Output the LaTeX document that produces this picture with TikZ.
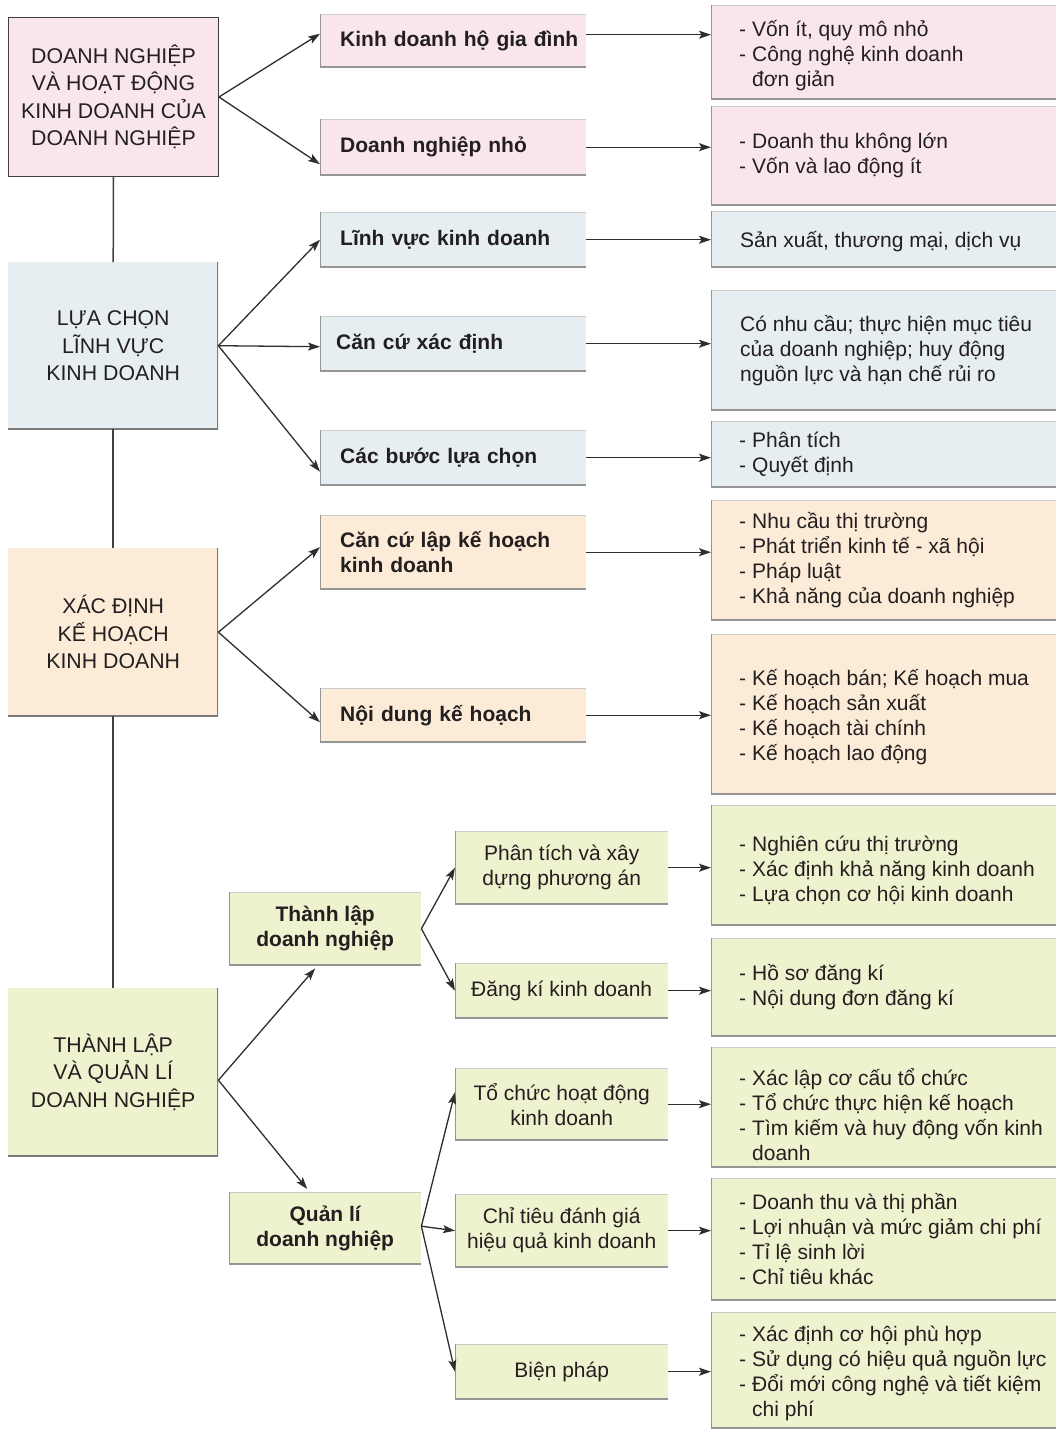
\documentclass[tikz,border=0pt]{standalone}
\usepackage{fontspec}
\setmainfont{Liberation Sans}
\usetikzlibrary{arrows.meta}
\definecolor{cpink}{HTML}{F8E6EC}
\definecolor{cblue}{HTML}{E7EEF2}
\definecolor{cpeach}{HTML}{FBEBD7}
\definecolor{cgreen}{HTML}{EEF2CE}
\definecolor{txt}{HTML}{231F20}
\definecolor{lc}{HTML}{2E2E2E}
\definecolor{edg}{HTML}{7A7A7A}
\newcommand\dd{\makebox[13pt][l]{-}}
\newcommand\ind{\hspace*{13pt}}
\begin{document}
\begin{tikzpicture}[x=1pt,y=-1pt,
  every node/.style={text=txt},
  redge/.style={path picture={\draw[edg,line width=2pt]
      (path picture bounding box.north east) -- (path picture bounding box.south east)
      -- (path picture bounding box.south west);}},
  ledge/.style={path picture={\draw[black!20,line width=1.4pt]
      (path picture bounding box.north west) -- (path picture bounding box.north east);
      \draw[edg!80,line width=1.8pt]
      (path picture bounding box.north west) -- (path picture bounding box.south west)
      -- (path picture bounding box.south east);}},
  c1box/.style={rectangle, anchor=north west, inner sep=0pt, minimum width=210pt,
      align=center, font=\fontsize{21.3}{27.5}\selectfont, redge},
  c2box/.style={rectangle, anchor=north west, inner xsep=20pt, inner ysep=0pt,
      text width=226pt, align=left, font=\fontsize{21}{25}\selectfont\bfseries, ledge},
  c3box/.style={rectangle, anchor=north west, inner sep=0pt, minimum width=345pt, ledge},
  c3txt/.style={anchor=west, align=left, inner sep=0pt, font=\fontsize{21}{25}\selectfont},
  lbox/.style={rectangle, anchor=north west, inner sep=0pt, minimum width=192pt,
      align=center, font=\fontsize{21}{25}\selectfont\bfseries, ledge},
  mbox/.style={rectangle, anchor=north west, inner sep=0pt, minimum width=213pt,
      align=center, font=\fontsize{21}{25}\selectfont, ledge},
  arr/.style={draw=lc, line width=1.3pt, -{Stealth[length=12pt,width=8pt,inset=2.5pt]}},
  spine/.style={draw=black!75, line width=1.5pt}
]
\useasboundingbox (0,0) rectangle (1058,1430);

% ---------- column 1 ----------
\node[c1box, fill=cpink, minimum height=159pt, draw=black!75, line width=1pt] (A) at (8,17)
  {DOANH NGHIỆP\\VÀ HOẠT ĐỘNG\\KINH DOANH CỦA\\DOANH NGHIỆP};
\node[c1box, fill=cblue, minimum height=167pt] (B) at (8,262)
  {LỰA CHỌN\\LĨNH VỰC\\KINH DOANH};
\node[c1box, fill=cpeach, minimum height=168pt] (C) at (8,548)
  {XÁC ĐỊNH\\KẾ HOẠCH\\KINH DOANH};
\node[c1box, fill=cgreen, minimum height=168pt] (D) at (8,988)
  {THÀNH LẬP\\VÀ QUẢN LÍ\\DOANH NGHIỆP};

\draw[spine] (A.south) -- (B.north);
\draw[spine] (B.south) -- (C.north);
\draw[spine] (C.south) -- (D.north);

% ---------- column 2 ----------
\node[c2box, fill=cpink, minimum height=53pt] (k1) at (320,14) {\mbox{Kinh doanh hộ gia đình}};
\node[c2box, fill=cpink, minimum height=56pt] (k2) at (320,119) {Doanh nghiệp nhỏ};
\node[c2box, fill=cblue, minimum height=55pt] (l1) at (320,212) {Lĩnh vực kinh doanh};
\node[c2box, fill=cblue, minimum height=55pt] (l2) at (320,316) {\hspace*{-4pt}Căn cứ xác định};
\node[c2box, fill=cblue, minimum height=55pt] (l3) at (320,430) {Các bước lựa chọn};
\node[c2box, fill=cpeach, minimum height=74pt] (p1) at (320,515) {Căn cứ lập kế hoạch\\kinh doanh};
\node[c2box, fill=cpeach, minimum height=54pt] (p2) at (320,688) {Nội dung kế hoạch};

% ---------- lower middle ----------
\node[lbox, fill=cgreen, minimum height=73pt] (tl) at (229,892) {Thành lập\\doanh nghiệp};
\node[lbox, fill=cgreen, minimum height=72pt] (ql) at (229,1192) {Quản lí\\doanh nghiệp};
\node[mbox, fill=cgreen, minimum height=73pt] (m1) at (455,831) {Phân tích và xây\\dựng phương án};
\node[mbox, fill=cgreen, minimum height=55pt] (m2) at (455,963) {Đăng kí kinh doanh};
\node[mbox, fill=cgreen, minimum height=72pt] (m3) at (455,1068) {Tổ chức hoạt động\\kinh doanh};
\node[mbox, fill=cgreen, minimum height=73pt] (m4) at (455,1194) {Chỉ tiêu đánh giá\\hiệu quả kinh doanh};
\node[mbox, fill=cgreen, minimum height=55pt] (m5) at (455,1344) {Biện pháp};

% ---------- column 3 ----------
\node[c3box, fill=cpink, minimum height=94pt] (v1) at (711,5) {};
\node[c3txt] (v1t) at ([xshift=28pt,yshift=-3pt]v1.west)
  {\dd Vốn ít, quy mô nhỏ\\\dd Công nghệ kinh doanh\\\ind đơn giản};
\node[c3box, fill=cpink, minimum height=99pt] (v2) at (711,106) {};
\node[c3txt] (v2t) at ([xshift=28pt]v2.west)
  {\dd Doanh thu không lớn\\\dd Vốn và lao động ít};
\node[c3box, fill=cblue, minimum height=56pt] (v3) at (711,211) {};
\node[c3txt] (v3t) at ([xshift=29pt,yshift=-2pt]v3.west) {Sản xuất, thương mại, dịch vụ};
\node[c3box, fill=cblue, minimum height=120pt] (v4) at (711,290) {};
\node[c3txt] (v4t) at ([xshift=29pt]v4.west)
  {Có nhu cầu; thực hiện mục tiêu\\của doanh nghiệp; huy động\\nguồn lực và hạn chế rủi ro};
\node[c3box, fill=cblue, minimum height=66pt] (v5) at (711,421) {};
\node[c3txt] (v5t) at ([xshift=28pt]v5.west) {\dd Phân tích\\\dd Quyết định};
\node[c3box, fill=cpeach, minimum height=120pt] (v6) at (711,500) {};
\node[c3txt] (v6t) at ([xshift=28pt]v6.west)
  {\dd Nhu cầu thị trường\\\dd Phát triển kinh tế - xã hội\\\dd Pháp luật\\\dd Khả năng của doanh nghiệp};
\node[c3box, fill=cpeach, minimum height=160pt] (v7) at (711,634) {};
\node[c3txt] (v7t) at ([xshift=28pt,yshift=-3pt]v7.west)
  {\dd Kế hoạch bán; Kế hoạch mua\\\dd Kế hoạch sản xuất\\\dd Kế hoạch tài chính\\\dd Kế hoạch lao động};
\node[c3box, fill=cgreen, minimum height=120pt] (v8) at (711,805) {};
\node[c3txt] (v8t) at ([xshift=28pt,yshift=-5pt]v8.west)
  {\dd Nghiên cứu thị trường\\\dd Xác định khả năng kinh doanh\\\dd Lựa chọn cơ hội kinh doanh};
\node[c3box, fill=cgreen, minimum height=98pt] (v9) at (711,938) {};
\node[c3txt] (v9t) at ([xshift=28pt]v9.west) {\dd Hồ sơ đăng kí\\\dd Nội dung đơn đăng kí};
\node[c3box, fill=cgreen, minimum height=120pt] (v10) at (711,1047) {};
\node[c3txt] (v10t) at ([xshift=28pt,yshift=-7pt]v10.west)
  {\dd Xác lập cơ cấu tổ chức\\\dd Tổ chức thực hiện kế hoạch\\\dd Tìm kiếm và huy động vốn kinh\\\ind doanh};
\node[c3box, fill=cgreen, minimum height=122pt] (v11) at (711,1178) {};
\node[c3txt] (v11t) at ([xshift=28pt]v11.west)
  {\dd Doanh thu và thị phần\\\dd Lợi nhuận và mức giảm chi phí\\\dd Tỉ lệ sinh lời\\\dd Chỉ tiêu khác};
\node[c3box, fill=cgreen, minimum height=116pt] (v12) at (711,1312) {};
\node[c3txt] (v12t) at ([xshift=28pt,yshift=-3pt]v12.west)
  {\dd Xác định cơ hội phù hợp\\\dd Sử dụng có hiệu quả nguồn lực\\\dd Đổi mới công nghệ và tiết kiệm\\\ind chi phí};

% ---------- connectors: column 1 -> column 2 ----------
\draw[arr] (A.east) -- ([yshift=7pt]k1.west);
\draw[arr] (A.east) -- ([yshift=-17pt]k2.west);
\draw[arr] (B.east) -- (l1.west);
\draw[arr] (B.east) -- ([yshift=-3pt]l2.west);
\draw[arr] (B.east) -- ([yshift=-14pt]l3.west);
\draw[arr] (C.east) -- ([yshift=5pt]p1.west);
\draw[arr] (C.east) -- ([yshift=-7pt]p2.west);
\coordinate (Dout) at ([yshift=-8pt]D.east);
\draw[arr] (Dout) -- ([xshift=-10pt,yshift=-3pt]tl.south);
\draw[arr] (Dout) -- ([xshift=-18pt,yshift=3pt]ql.north);
\draw[arr] (tl.east) -- (m1.west);
\draw[arr] (tl.east) -- (m2.west);
\coordinate (Qout) at ([yshift=2pt]ql.east);
\draw[arr] (Qout) -- ([yshift=12pt]m3.west);
\draw[arr] (Qout) -- (m4.west);
\draw[arr] (Qout) -- (m5.west);

% ---------- connectors: -> column 3 ----------
\coordinate (k1o) at ([yshift=6pt]k1.east);
\draw[arr] (k1o) -- (k1o -| v1.west);
\draw[arr] (k2.east) -- (k2.east -| v2.west);
\draw[arr] (l1.east) -- (l1.east -| v3.west);
\draw[arr] (l2.east) -- (l2.east -| v4.west);
\draw[arr] (l3.east) -- (l3.east -| v5.west);
\draw[arr] (p1.east) -- (p1.east -| v6.west);
\draw[arr] (p2.east) -- (p2.east -| v7.west);
\draw[arr] (m1.east) -- (m1.east -| v8.west);
\draw[arr] (m2.east) -- (m2.east -| v9.west);
\draw[arr] (m3.east) -- (m3.east -| v10.west);
\draw[arr] (m4.east) -- (m4.east -| v11.west);
\draw[arr] (m5.east) -- (m5.east -| v12.west);
\end{tikzpicture}
\end{document}
